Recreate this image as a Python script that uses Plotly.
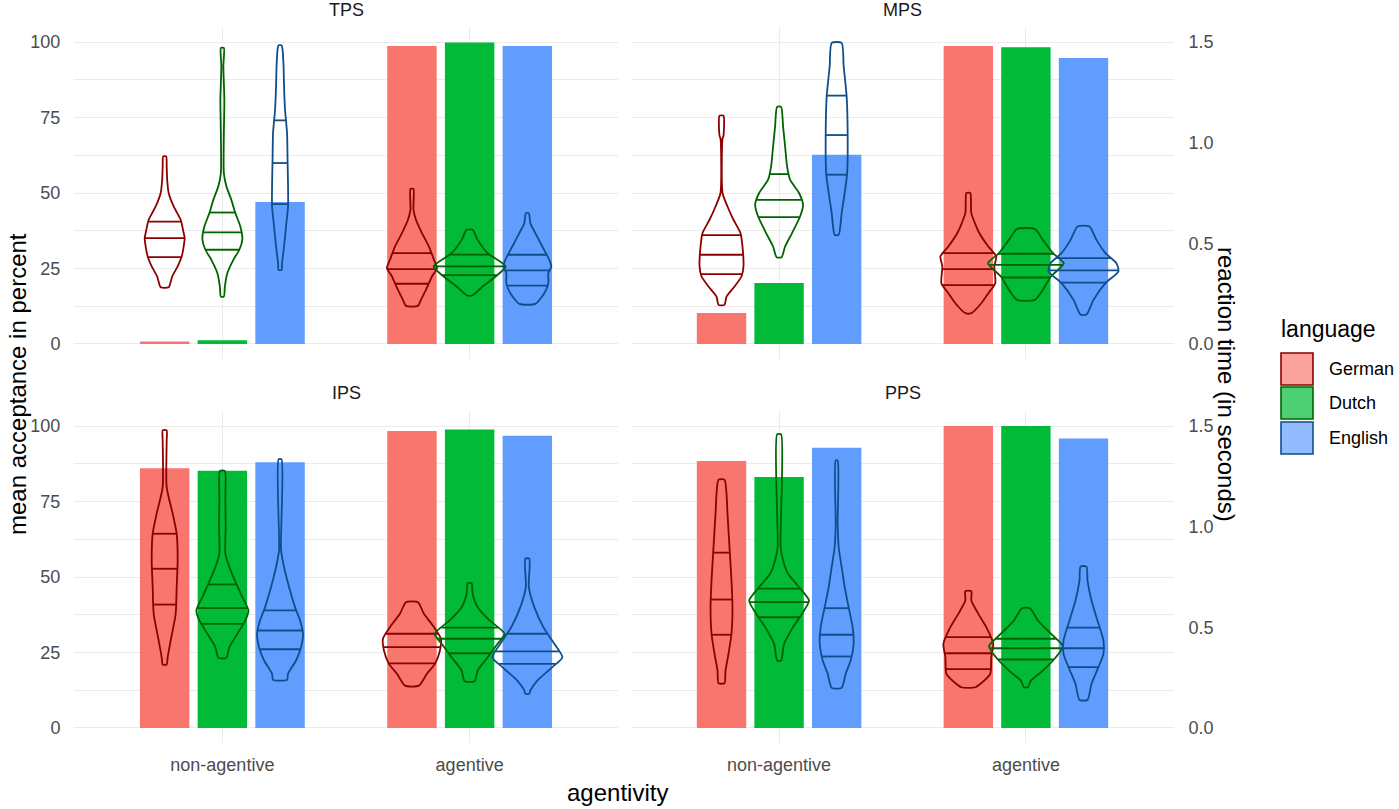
import numpy as np
import plotly.graph_objects as go

# ---------------- data ----------------
panels = ["TPS", "MPS", "IPS", "PPS"]
agentivity = ["non-agentive", "agentive"]
languages = ["German", "Dutch", "English"]

# mean acceptance in percent: [non-agentive, agentive] x [German, Dutch, English]
acc_TPS = [[0.8, 1.2, 47.0], [98.7, 99.9, 98.7]]
acc_MPS = [[10.2, 20.2, 62.7], [98.7, 98.3, 94.7]]
acc_IPS = [[86.0, 85.2, 88.0], [98.4, 98.9, 96.8]]
acc_PPS = [[88.4, 83.1, 92.8], [100.0, 100.0, 95.9]]

# reaction-time violins (seconds).
# order: non-ag German, non-ag Dutch, non-ag English, ag German, ag Dutch, ag English
# *_rt = reaction-time levels, *_dens = relative density (violin half width), *_q = quartiles
TPS_rt = [
    [0.282, 0.335, 0.385, 0.434, 0.484, 0.526, 0.551, 0.617, 0.683, 0.750, 0.816, 0.882, 0.932],
    [0.235, 0.285, 0.352, 0.418, 0.468, 0.521, 0.584, 0.650, 0.716, 0.783, 0.849, 1.048, 1.214, 1.380, 1.471],
    [0.368, 0.401, 0.484, 0.584, 0.683, 0.783, 0.915, 1.048, 1.164, 1.280, 1.380, 1.463, 1.484],
    [0.189, 0.219, 0.269, 0.335, 0.377, 0.418, 0.484, 0.551, 0.617, 0.667, 0.770],
    [0.242, 0.285, 0.335, 0.385, 0.451, 0.517, 0.567],
    [0.199, 0.252, 0.302, 0.352, 0.385, 0.418, 0.484, 0.551, 0.600, 0.650],
]
TPS_dens = [
    [4, 7.5, 13, 17, 19, 20, 19, 16, 9, 4, 2.5, 2, 1.5],
    [1.5, 2.5, 5, 11, 17, 20, 18, 13, 9, 4, 1.5, 1.5, 2, 1, 1.5],
    [1.5, 2, 4, 6, 8, 8, 7.5, 7, 5, 4, 3.5, 2.5, 1.5],
    [6, 9, 14, 20, 25, 22, 17, 10, 4, 1.5, 1.5],
    [3, 13, 26, 36, 18, 8, 3],
    [8, 17, 21, 21, 24, 22, 15, 8, 3, 1.5],
]
TPS_q = [[0.431, 0.526, 0.608], [0.468, 0.554, 0.653], [0.695, 0.899, 1.111],
         [0.299, 0.372, 0.451], [0.342, 0.385, 0.444], [0.290, 0.365, 0.443]]

MPS_rt = [
    [0.194, 0.235, 0.285, 0.335, 0.385, 0.484, 0.551, 0.617, 0.683, 0.750, 1.020, 1.035, 1.134],
    [0.431, 0.484, 0.551, 0.633, 0.692, 0.750, 0.816, 0.882, 0.982, 1.081, 1.178],
    [0.542, 0.650, 0.750, 0.849, 1.048, 1.230, 1.380, 1.496],
    [0.153, 0.202, 0.252, 0.302, 0.385, 0.434, 0.484, 0.551, 0.650, 0.750],
    [0.219, 0.269, 0.335, 0.401, 0.451, 0.517, 0.571],
    [0.146, 0.219, 0.302, 0.360, 0.401, 0.451, 0.517, 0.584],
]
MPS_dens = [
    [3, 5, 13, 20, 22, 21, 19, 12, 6, 1, 1, 2, 2],
    [2.5, 6, 13, 21, 24, 20, 11, 8, 6, 4, 2],
    [2, 5, 8, 10.5, 11, 10, 7, 5],
    [3, 13, 20, 27, 26, 28, 20, 11, 3, 2],
    [9, 17, 25, 38, 27, 17, 9],
    [3, 10, 22, 35, 33, 22, 13, 6],
]
MPS_q = [[0.347, 0.443, 0.541], [0.630, 0.716, 0.844], [0.841, 1.038, 1.234],
         [0.292, 0.372, 0.451], [0.330, 0.393, 0.448], [0.305, 0.365, 0.426]]

IPS_rt = [
    [0.315, 0.351, 0.434, 0.567, 0.700, 0.832, 0.965, 1.065, 1.197, 1.429, 1.479],
    [0.348, 0.401, 0.468, 0.534, 0.584, 0.650, 0.716, 0.799, 0.866, 1.000, 1.150, 1.277],
    [0.239, 0.269, 0.335, 0.401, 0.468, 0.534, 0.600, 0.700, 0.799, 0.882, 1.335],
    [0.210, 0.269, 0.318, 0.385, 0.443, 0.501, 0.567, 0.625],
    [0.232, 0.285, 0.351, 0.418, 0.468, 0.534, 0.600, 0.667, 0.719],
    [0.169, 0.186, 0.235, 0.302, 0.351, 0.418, 0.501, 0.600, 0.700, 0.841],
]
IPS_dens = [
    [2, 3, 6, 11, 12, 13, 12, 8, 2, 2, 2],
    [4, 7, 15, 23, 26, 20, 14, 7, 3, 3.3, 3, 2.5],
    [7, 8, 16, 21, 23, 20, 15, 9, 4, 1, 1.5],
    [7, 15, 23, 28, 29, 22, 12, 6],
    [5, 8, 18, 28, 35, 20, 8, 3, 2],
    [2, 3, 10, 25, 35, 27, 16, 7, 1.5, 2],
]
IPS_q = [[0.613, 0.791, 0.965], [0.517, 0.595, 0.713], [0.391, 0.484, 0.584],
         [0.321, 0.401, 0.468], [0.371, 0.443, 0.498], [0.318, 0.380, 0.468]]

PPS_rt = [
    [0.222, 0.285, 0.368, 0.468, 0.600, 0.733, 0.899, 1.065, 1.164, 1.234],
    [0.335, 0.418, 0.501, 0.567, 0.633, 0.700, 0.766, 0.832, 0.899, 1.459],
    [0.199, 0.269, 0.335, 0.418, 0.501, 0.600, 0.700, 0.799, 0.899, 1.015, 1.330],
    [0.202, 0.227, 0.269, 0.351, 0.418, 0.501, 0.567, 0.633, 0.680],
    [0.202, 0.235, 0.285, 0.351, 0.406, 0.468, 0.534, 0.595],
    [0.139, 0.219, 0.302, 0.368, 0.434, 0.534, 0.633, 0.733, 0.802],
]
PPS_dens = [
    [3, 4, 7, 10, 11, 10, 8, 6, 5, 3],
    [2, 5, 14, 23, 30, 20, 9, 4, 1.5, 2],
    [5, 9, 14, 17, 16, 12, 8, 5, 2, 1, 1],
    [7, 14, 22, 23, 25, 18, 10, 3, 3],
    [2, 5, 17, 30, 37, 25, 12, 4],
    [4, 8, 15, 20, 20, 14, 8, 4, 3],
]
PPS_q = [[0.463, 0.638, 0.871], [0.550, 0.625, 0.692], [0.355, 0.463, 0.595],
         [0.292, 0.371, 0.451], [0.340, 0.396, 0.443], [0.302, 0.396, 0.498]]

acc_all = [acc_TPS, acc_MPS, acc_IPS, acc_PPS]
rt_all = [TPS_rt, MPS_rt, IPS_rt, PPS_rt]
dens_all = [TPS_dens, MPS_dens, IPS_dens, PPS_dens]
q_all = [TPS_q, MPS_q, IPS_q, PPS_q]

# ---------------- styling ----------------
W, H = 1399, 809
FONT = "Liberation Sans, Arial, sans-serif"
bar_colors = ["#F8766D", "#00BA38", "#619CFF"]
line_colors = ["#8B0000", "#006400", "#104E8B"]
key_fill = ["#F9A39C", "#4DCF74", "#93BBFF"]
grid = "#EBEBEB"
dodge = [-0.2333, 0.0, 0.2333]
bar_w = 0.2
dens_scale = 1 / 247.3  # relative density -> category units

def px_x(p):
    return p / W

def px_y(p):
    return 1 - p / H

x_dom = [[px_x(74), px_x(618)], [px_x(631), px_x(1174)]]
y_dom = [[px_y(359), px_y(27)], [px_y(743), px_y(411)]]

fig = go.Figure()
layout = dict(
    width=W, height=H, margin=dict(l=0, r=0, t=0, b=0),
    template="none", paper_bgcolor="white", plot_bgcolor="rgba(0,0,0,0)",
    showlegend=False, barmode="overlay", font=dict(family=FONT),
)

for k in range(4):
    col = k % 2
    row = k // 2
    n = k + 1
    xa, ya, ya2 = f"x{n}", f"y{n}", f"y{n + 4}"
    # bars
    for j in range(3):
        fig.add_trace(go.Bar(
            x=[1 + dodge[j], 2 + dodge[j]],
            y=[acc_all[k][0][j], acc_all[k][1][j]],
            width=bar_w, marker=dict(color=bar_colors[j], line=dict(width=0)),
            xaxis=xa, yaxis=ya, hoverinfo="skip"))
    # violins
    for c in range(2):
        for j in range(3):
            idx = c * 3 + j
            rt = np.array(rt_all[k][idx], dtype=float)
            d = np.array(dens_all[k][idx], dtype=float) * dens_scale
            order = np.argsort(rt)
            rt, d = rt[order], d[order]
            cx = (c + 1) + dodge[j]
            xs = np.concatenate([cx + d, (cx - d)[::-1], [cx + d[0]]])
            ys = np.concatenate([rt, rt[::-1], [rt[0]]])
            fig.add_trace(go.Scatter(
                x=xs, y=ys, mode="lines",
                line=dict(color=line_colors[j], width=1.8, shape="spline", smoothing=0.6),
                xaxis=xa, yaxis=ya2, hoverinfo="skip"))
            qx, qy = [], []
            for qv in q_all[k][idx]:
                hw = np.interp(qv, rt, d)
                qx += [cx - hw, cx + hw, None]
                qy += [qv, qv, None]
            fig.add_trace(go.Scatter(
                x=qx, y=qy, mode="lines",
                line=dict(color=line_colors[j], width=1.8),
                xaxis=xa, yaxis=ya2, hoverinfo="skip"))

    axkey = "xaxis" if n == 1 else f"xaxis{n}"
    aykey = "yaxis" if n == 1 else f"yaxis{n}"
    layout[axkey] = dict(
        domain=x_dom[col], anchor=ya, range=[0.4, 2.6],
        tickvals=[1, 2], ticktext=agentivity, showticklabels=(row == 1),
        showgrid=True, gridcolor=grid, gridwidth=1, zeroline=False, showline=False,
        ticks="outside", ticklen=5, tickcolor="rgba(0,0,0,0)",
        tickfont=dict(size=18, color="#4D4D4D", family=FONT), fixedrange=True)
    layout[aykey] = dict(
        domain=y_dom[row], anchor=xa, range=[-5, 105],
        tickvals=[0, 25, 50, 75, 100], showticklabels=(col == 0),
        showgrid=True, gridcolor=grid, gridwidth=1, zeroline=False, showline=False,
        minor=dict(dtick=12.5, tick0=0, showgrid=True, gridcolor=grid, gridwidth=1),
        ticks="outside", ticklen=9, tickcolor="rgba(0,0,0,0)",
        tickfont=dict(size=18, color="#4D4D4D", family=FONT), fixedrange=True)
    layout[f"yaxis{n + 4}"] = dict(
        overlaying=ya, anchor=xa, side="right", range=[-0.075, 1.575],
        tickvals=[0, 0.5, 1.0, 1.5], ticktext=["0.0", "0.5", "1.0", "1.5"],
        showticklabels=(col == 1), showgrid=False, zeroline=False, showline=False,
        ticks="outside", ticklen=10, tickcolor="rgba(0,0,0,0)",
        tickfont=dict(size=18, color="#4D4D4D", family=FONT), fixedrange=True)

annotations = []
# strip titles
for k in range(4):
    col, row = k % 2, k // 2
    annotations.append(dict(
        text=panels[k], xref="paper", yref="paper",
        x=sum(x_dom[col]) / 2, y=px_y(10 if row == 0 else 393),
        showarrow=False, xanchor="center", yanchor="middle",
        font=dict(size=18, color="#1A1A1A", family=FONT)))
# axis titles
annotations.append(dict(text="agentivity", xref="paper", yref="paper",
                        x=px_x(617), y=px_y(792), showarrow=False,
                        xanchor="center", yanchor="middle",
                        font=dict(size=24, color="black", family=FONT)))
annotations.append(dict(text="mean acceptance in percent", xref="paper", yref="paper",
                        x=px_x(17), y=px_y(384), showarrow=False, textangle=-90,
                        xanchor="center", yanchor="middle",
                        font=dict(size=24, color="black", family=FONT)))
annotations.append(dict(text="reaction time (in seconds)", xref="paper", yref="paper",
                        x=px_x(1227), y=px_y(384), showarrow=False, textangle=90,
                        xanchor="center", yanchor="middle",
                        font=dict(size=24, color="black", family=FONT)))
# legend
annotations.append(dict(text="language", xref="paper", yref="paper",
                        x=px_x(1279), y=px_y(329), showarrow=False,
                        xanchor="left", yanchor="middle",
                        font=dict(size=23, color="black", family=FONT)))
shapes = []
key_tops = [353, 387, 422]
for j in range(3):
    t = key_tops[j]
    shapes.append(dict(type="rect", xref="paper", yref="paper",
                       x0=px_x(1281), x1=px_x(1313), y0=px_y(t + 32), y1=px_y(t),
                       fillcolor=key_fill[j], line=dict(color=line_colors[j], width=1.6)))
    annotations.append(dict(text=languages[j], xref="paper", yref="paper",
                            x=px_x(1327), y=px_y(t + 16), showarrow=False,
                            xanchor="left", yanchor="middle",
                            font=dict(size=18, color="black", family=FONT)))

layout["annotations"] = annotations
layout["shapes"] = shapes
fig.update_layout(**layout)
fig.write_html("out.html", config={"displayModeBar": False},
               post_script="document.body.style.margin='0';document.body.style.overflow='hidden';")
